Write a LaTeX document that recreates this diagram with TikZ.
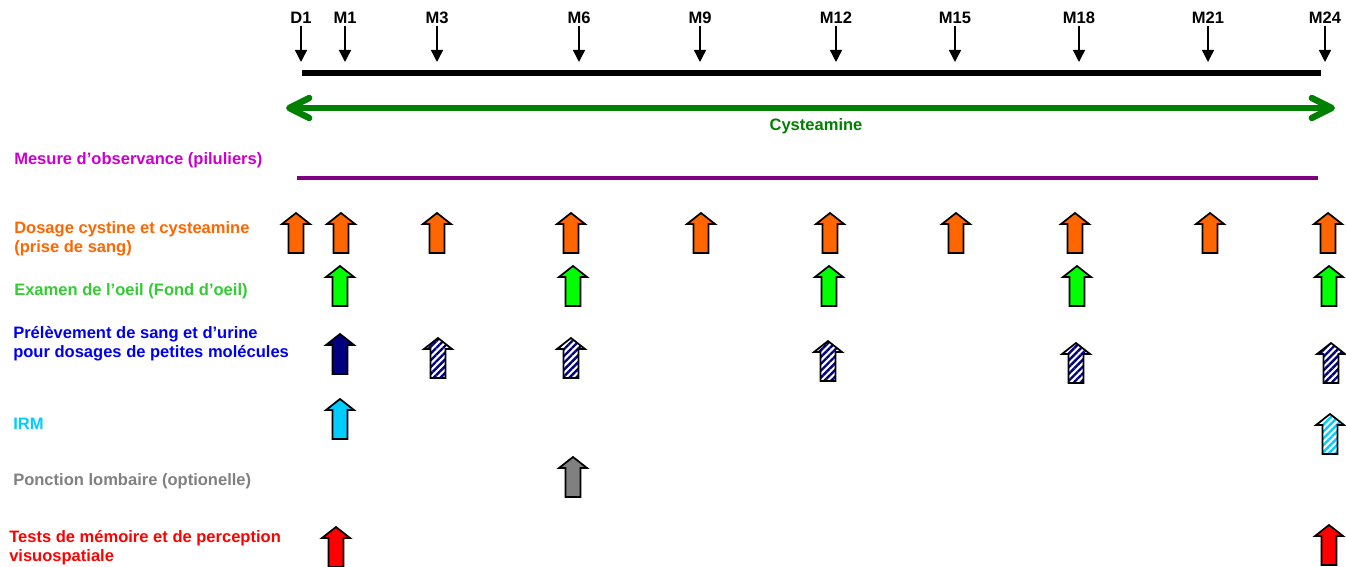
\documentclass[tikz,border=0pt]{standalone}
\usepackage{fontspec}
\setmainfont{Liberation Sans}
\usetikzlibrary{arrows.meta,patterns.meta}

\definecolor{cyst}{RGB}{0,128,0}
\definecolor{observ}{RGB}{204,0,204}
\definecolor{observline}{RGB}{128,0,128}
\definecolor{dosage}{RGB}{255,102,0}
\definecolor{oeiltxt}{RGB}{51,204,51}
\definecolor{oeil}{RGB}{0,255,0}
\definecolor{prelev}{RGB}{0,0,240}
\definecolor{navyA}{RGB}{0,0,128}
\definecolor{irm}{RGB}{0,204,255}
\definecolor{ponction}{RGB}{128,128,128}
\definecolor{tests}{RGB}{255,0,0}

\tikzset{
  uparrow/.pic={
    \path[pic actions] (0,0) -- (14,11) -- (7.5,11) -- (7.5,40)
      -- (-7.5,40) -- (-7.5,11) -- (-14,11) -- cycle;
  },
  blk/.style={draw=black, line width=1.3pt, line join=miter},
  hatch/.style={blk, preaction={fill=white},
    pattern={Lines[angle=45,distance=3.6pt,line width=1.8pt]},
    pattern color=#1},
  tlabel/.style={anchor=base, inner sep=1pt},
  tickarrow/.style={line width=1.1pt, -{Triangle[length=9pt,width=9pt]}},
  rowlabel/.style={anchor=base west, inner sep=0pt, align=left},
}

\begin{document}
\begin{tikzpicture}[x=0.75pt, y=-0.75pt,
  font=\bfseries\fontsize{12.4}{14}\selectfont]
\useasboundingbox (0,0) rectangle (1346,567);

% time points along the study
\foreach \lab/\x in {D1/301, M1/345, M3/437, M6/579, M9/700,
                     M12/836, M15/955, M18/1079, M21/1208, M24/1325}{
  \node[tlabel] (t\lab) at (\x,24) {\lab};
  \coordinate (e\lab) at (\x,62);
  \draw[tickarrow] (t\lab) -- (e\lab);
}

% study duration bar
\coordinate (barL) at (302,73);
\coordinate (barR) at (1321,73);
\draw[line width=4.6pt] (barL) -- (barR);

% treatment period
\coordinate (cysL) at (286,108);
\coordinate (cysR) at (1335,108);
\draw[cyst, line width=4.8pt,
  {Straight Barb[length=15pt,width=15pt,round]}-{Straight Barb[length=15pt,width=15pt,round]}]
  (cysL) -- (cysR);
\node[anchor=base, inner sep=0pt, text=cyst] (cysLab) at (816,130) {Cysteamine};

% row labels (two-line labels are anchored on the baseline of their last line)
\node[rowlabel, text=observ] (lObs) at (14,164) {Mesure d’observance (piluliers)};
\node[rowlabel, text=dosage] (lDos) at (14,252) {Dosage cystine et cysteamine\\(prise de sang)};
\node[rowlabel, text=oeiltxt] (lOeil) at (14,295) {Examen de l’oeil (Fond d’oeil)};
\node[rowlabel, text=prelev] (lPre) at (13,357) {Prélèvement de sang et d’urine\\pour dosages de petites molécules};
\node[rowlabel, text=irm] (lIrm) at (13,429) {IRM};
\node[rowlabel, text=ponction] (lPon) at (13,485) {Ponction lombaire (optionelle)};
\node[rowlabel, text=tests] (lTes) at (9,561) {Tests de mémoire et de perception\\visuospatiale};

% compliance monitoring
\coordinate (obsL) at (297,178);
\coordinate (obsR) at (1318,178);
\draw[observline, line width=3pt] (obsL) -- (obsR);

% blood dosage visits
\foreach \x in {296,341,437,571,701,830,956,1075,1210,1328}
  \pic[blk, fill=dosage] at (\x,213) {uparrow};

% eye examinations
\foreach \x in {340,573,829,1077,1329}
  \pic[blk, fill=oeil] at (\x,266) {uparrow};

% blood and urine sampling
\pic[blk, fill=navyA] at (340,334) {uparrow};
\foreach \x/\y in {438/338, 571/338, 828/341, 1076/343, 1331/343}
  \pic[hatch=navyA] at (\x,\y) {uparrow};

% MRI
\pic[blk, fill=irm] at (340,399) {uparrow};
\pic[hatch=irm] at (1330,414) {uparrow};

% lumbar puncture
\pic[blk, fill=ponction] at (573,457) {uparrow};

% memory tests
\pic[blk, fill=tests] at (336,527) {uparrow};
\pic[blk, fill=tests] at (1329,525) {uparrow};
\end{tikzpicture}
\end{document}
